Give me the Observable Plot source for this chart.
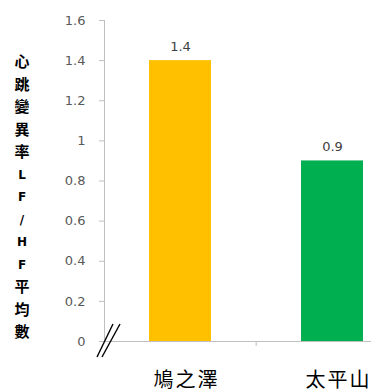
<!DOCTYPE html>
<html>
<head>
<meta charset="utf-8">
<script src="https://cdn.jsdelivr.net/npm/d3@7"></script>
<script src="https://cdn.jsdelivr.net/npm/@observablehq/plot@0.6"></script>
<style>
  html, body { margin: 0; padding: 0; background: #fff; }
  #chart svg { display: block; }
</style>
</head>
<body>
<div id="chart"></div>
<script>
// Heart-rate variability (LF/HF) means for two sites
const sites = ["鳩之澤", "太平山"];
const lfhf = [1.4, 0.9];
const colors = ["#FFC000", "#00B050"];
const yTicks = [0, 0.2, 0.4, 0.6, 0.8, 1, 1.2, 1.4, 1.6];
const yTitle = ["心", "跳", "變", "異", "率", "L", "F", "/", "H", "F", "平", "均", "數"];

const rows = sites.map((site, i) => ({site, value: lfhf[i], color: colors[i]}));

const W = 371, H = 392;
const mL = 104, mT = 20, mB = 51;

const plot = Plot.plot({
  width: W,
  height: H,
  marginLeft: mL,
  marginRight: 0,
  marginTop: mT,
  marginBottom: mB,
  style: {fontFamily: "DejaVu Sans, sans-serif", fontSize: "12px", color: "#595959", background: "#fff"},
  x: {domain: sites, range: [mL, 408], paddingInner: 0.59, paddingOuter: 0.295, label: null},
  y: {domain: [0, 1.6], label: null},
  marks: [
    Plot.frame({anchor: "left", stroke: "#BFBFBF"}),
    Plot.barY(rows, {x: "site", y: "value", fill: "color"}),
    Plot.ruleY([0], {stroke: "#BFBFBF"}),
    Plot.axisY({
      ticks: yTicks,
      tickSize: 5,
      tickPadding: 14,
      stroke: "#BFBFBF",
      tickFormat: d => String(+d.toFixed(1)),
      fill: "#595959",
      fontSize: 13,
      label: null
    }),
    Plot.axisX({
      tickSize: 0,
      tickPadding: 31,
      fontSize: 20,
      fill: "#000",
      fontFamily: "Noto Sans CJK TC, sans-serif",
      dx: 6,
      label: null
    }),
    Plot.text(rows, {
      x: "site",
      y: "value",
      text: d => String(d.value),
      dy: -14,
      fontSize: 13,
      fill: "#404040"
    })
  ]
});

const svg = d3.select(plot);
svg.selectAll('g[aria-label="x-axis tick label"] text').style("letter-spacing", "2px");

// Excel-style category divider tick and the axis-break marks
const xs = plot.scale("x");
const ys = plot.scale("y");
const y0 = ys.apply(0);
const divX = xs.apply(sites[1]) - xs.step * xs.paddingInner / 2;
svg.append("line")
  .attr("x1", divX).attr("x2", divX)
  .attr("y1", y0).attr("y2", y0 + 5)
  .attr("stroke", "#BFBFBF");

const brk = svg.append("g").attr("stroke", "#000").attr("stroke-width", 1.4);
[[97, 113], [102, 120]].forEach(([a, b]) => {
  brk.append("line")
    .attr("x1", a).attr("y1", y0 + 16)
    .attr("x2", b).attr("y2", y0 - 17);
});

// Vertical stacked y-axis title
const title = svg.append("g")
  .attr("text-anchor", "middle")
  .attr("fill", "#000");
yTitle.forEach((ch, i) => {
  const latin = /[A-Z\/]/.test(ch);
  title.append("text")
    .attr("x", 22)
    .attr("y", 62 + i * 22.5)
    .attr("dy", "0.35em")
    .attr("font-family", latin ? "DejaVu Sans, sans-serif" : "Noto Sans CJK TC, sans-serif")
    .attr("font-weight", 700)
    .attr("font-size", latin ? 12 : 15)
    .text(ch);
});

document.getElementById("chart").appendChild(plot);
</script>
</body>
</html>
